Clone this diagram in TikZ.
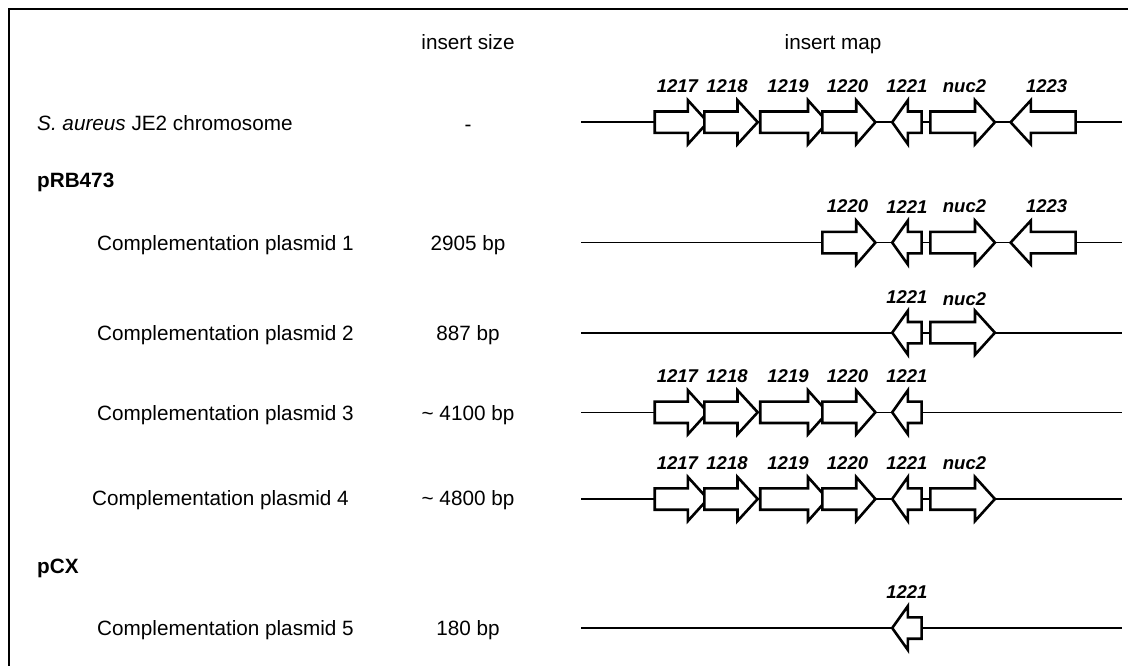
\documentclass[tikz,border=0pt]{standalone}
\usepackage{fontspec}
\setmainfont{Liberation Sans}
\newcommand\genearrow[4]{% start, head base, tip, y
  \draw[gene] ({#1},{#4-10.7}) -- ({#2},{#4-10.7}) -- ({#2},{#4-22}) -- ({#3},{#4})
    -- ({#2},{#4+22}) -- ({#2},{#4+10.7}) -- ({#1},{#4+10.7}) -- cycle;}
\begin{document}
\begin{tikzpicture}[x=1pt,y=-1pt,
  txt/.style={font=\fontsize{20.7}{24}\selectfont, inner sep=0pt},
  cat/.style={font=\fontsize{20.7}{24}\selectfont\bfseries, inner sep=0pt},
  glab/.style={font=\fontsize{18.5}{22}\selectfont\bfseries\itshape, inner sep=0pt},
  backbone/.style={line width=1.6pt},
  gene/.style={draw, fill=white, line width=2.6pt, line join=miter},
  frame/.style={line width=1.8pt}]
\useasboundingbox (0,0) rectangle (1128,666);
\coordinate (fbl) at (9,670);
\coordinate (ftl) at (9,9);
\coordinate (ftr) at (1132,9);
\draw[frame] (fbl) -- (ftl) -- (ftr);
% headers
\node[txt, anchor=base] (hsize) at (468,50) {insert size};
\node[txt, anchor=base] (hmap) at (833,50) {insert map};
% row labels
\node[txt, anchor=mid west] (l0) at (37,128) {\textit{S. aureus} JE2 chromosome};
\node[cat, anchor=mid west] (c1) at (37,185) {pRB473};
\node[txt, anchor=mid west] (l1) at (97,248) {Complementation plasmid 1};
\node[txt, anchor=mid west] (l2) at (97,338) {Complementation plasmid 2};
\node[txt, anchor=mid west] (l3) at (97,418) {Complementation plasmid 3};
\node[txt, anchor=mid west] (l4) at (92,503) {Complementation plasmid 4};
\node[cat, anchor=mid west] (c2) at (37,571) {pCX};
\node[txt, anchor=mid west] (l5) at (97,633) {Complementation plasmid 5};
% sizes
\node[txt] (s0) at (468,128) {-};
\node[txt, anchor=mid] (s1) at (468,248) {2905 bp};
\node[txt, anchor=mid] (s2) at (468,338) {887 bp};
\node[txt, anchor=mid] (s3) at (468,418) {\textasciitilde{} 4100 bp};
\node[txt, anchor=mid] (s4) at (468,503) {\textasciitilde{} 4800 bp};
\node[txt, anchor=mid] (s5) at (468,633) {180 bp};
% backbones
\foreach \r/\y in {0/122.2,1/242.6,2/332.7,3/412.3,4/499,5/628}{
  \coordinate (b\r a) at (581,\y);
  \coordinate (b\r b) at (1121.7,\y);
  \draw[backbone] (b\r a) -- (b\r b);
}
% chromosome
\genearrow{654.7}{687.9}{707.8}{122.2}
\genearrow{704.3}{737.5}{757.7}{122.2}
\genearrow{760.2}{808}{827.6}{122.2}
\genearrow{822.4}{856.2}{875.4}{122.2}
\genearrow{921.6}{907.9}{892.2}{122.2}
\genearrow{930.3}{975}{994.9}{122.2}
\genearrow{1075.6}{1030.9}{1010.6}{122.2}
\node[glab] (g0a) at (677.4,86) {1217};
\node[glab] (g0b) at (727,86) {1218};
\node[glab] (g0c) at (788,86) {1219};
\node[glab] (g0d) at (847.5,86) {1220};
\node[glab] (g0e) at (906.9,86) {1221};
\node[glab] (g0f) at (964.5,86) {nuc2};
\node[glab] (g0g) at (1046.6,86) {1223};
% plasmid 1
\genearrow{822.4}{856.2}{875.4}{242.6}
\genearrow{921.6}{907.9}{892.2}{242.6}
\genearrow{930.3}{975}{994.9}{242.6}
\genearrow{1075.6}{1030.9}{1010.6}{242.6}
\node[glab] (g1d) at (847.5,206.6) {1220};
\node[glab] (g1e) at (906.9,206.6) {1221};
\node[glab] (g1f) at (964.5,206.6) {nuc2};
\node[glab] (g1g) at (1046.6,206.6) {1223};
% plasmid 2
\genearrow{921.6}{907.9}{892.2}{332.7}
\genearrow{930.3}{975}{994.9}{332.7}
\node[glab] (g2e) at (906.9,296.7) {1221};
\node[glab] (g2f) at (964.5,298.7) {nuc2};
% plasmid 3
\genearrow{654.7}{687.9}{707.8}{412.3}
\genearrow{704.3}{737.5}{757.7}{412.3}
\genearrow{760.2}{808}{827.6}{412.3}
\genearrow{822.4}{856.2}{875.4}{412.3}
\genearrow{921.6}{907.9}{892.2}{412.3}
\node[glab] (g3a) at (677.4,376.3) {1217};
\node[glab] (g3b) at (727,376.3) {1218};
\node[glab] (g3c) at (788,376.3) {1219};
\node[glab] (g3d) at (847.5,376.3) {1220};
\node[glab] (g3e) at (906.9,376.3) {1221};
% plasmid 4
\genearrow{654.7}{687.9}{707.8}{499}
\genearrow{704.3}{737.5}{757.7}{499}
\genearrow{760.2}{808}{827.6}{499}
\genearrow{822.4}{856.2}{875.4}{499}
\genearrow{921.6}{907.9}{892.2}{499}
\genearrow{930.3}{975}{994.9}{499}
\node[glab] (g4a) at (677.4,463) {1217};
\node[glab] (g4b) at (727,463) {1218};
\node[glab] (g4c) at (788,463) {1219};
\node[glab] (g4d) at (847.5,463) {1220};
\node[glab] (g4e) at (906.9,463) {1221};
\node[glab] (g4f) at (964.5,463) {nuc2};
% plasmid 5
\genearrow{921.6}{907.9}{892.2}{628}
\node[glab] (g5e) at (906.9,592) {1221};
\end{tikzpicture}
\end{document}
